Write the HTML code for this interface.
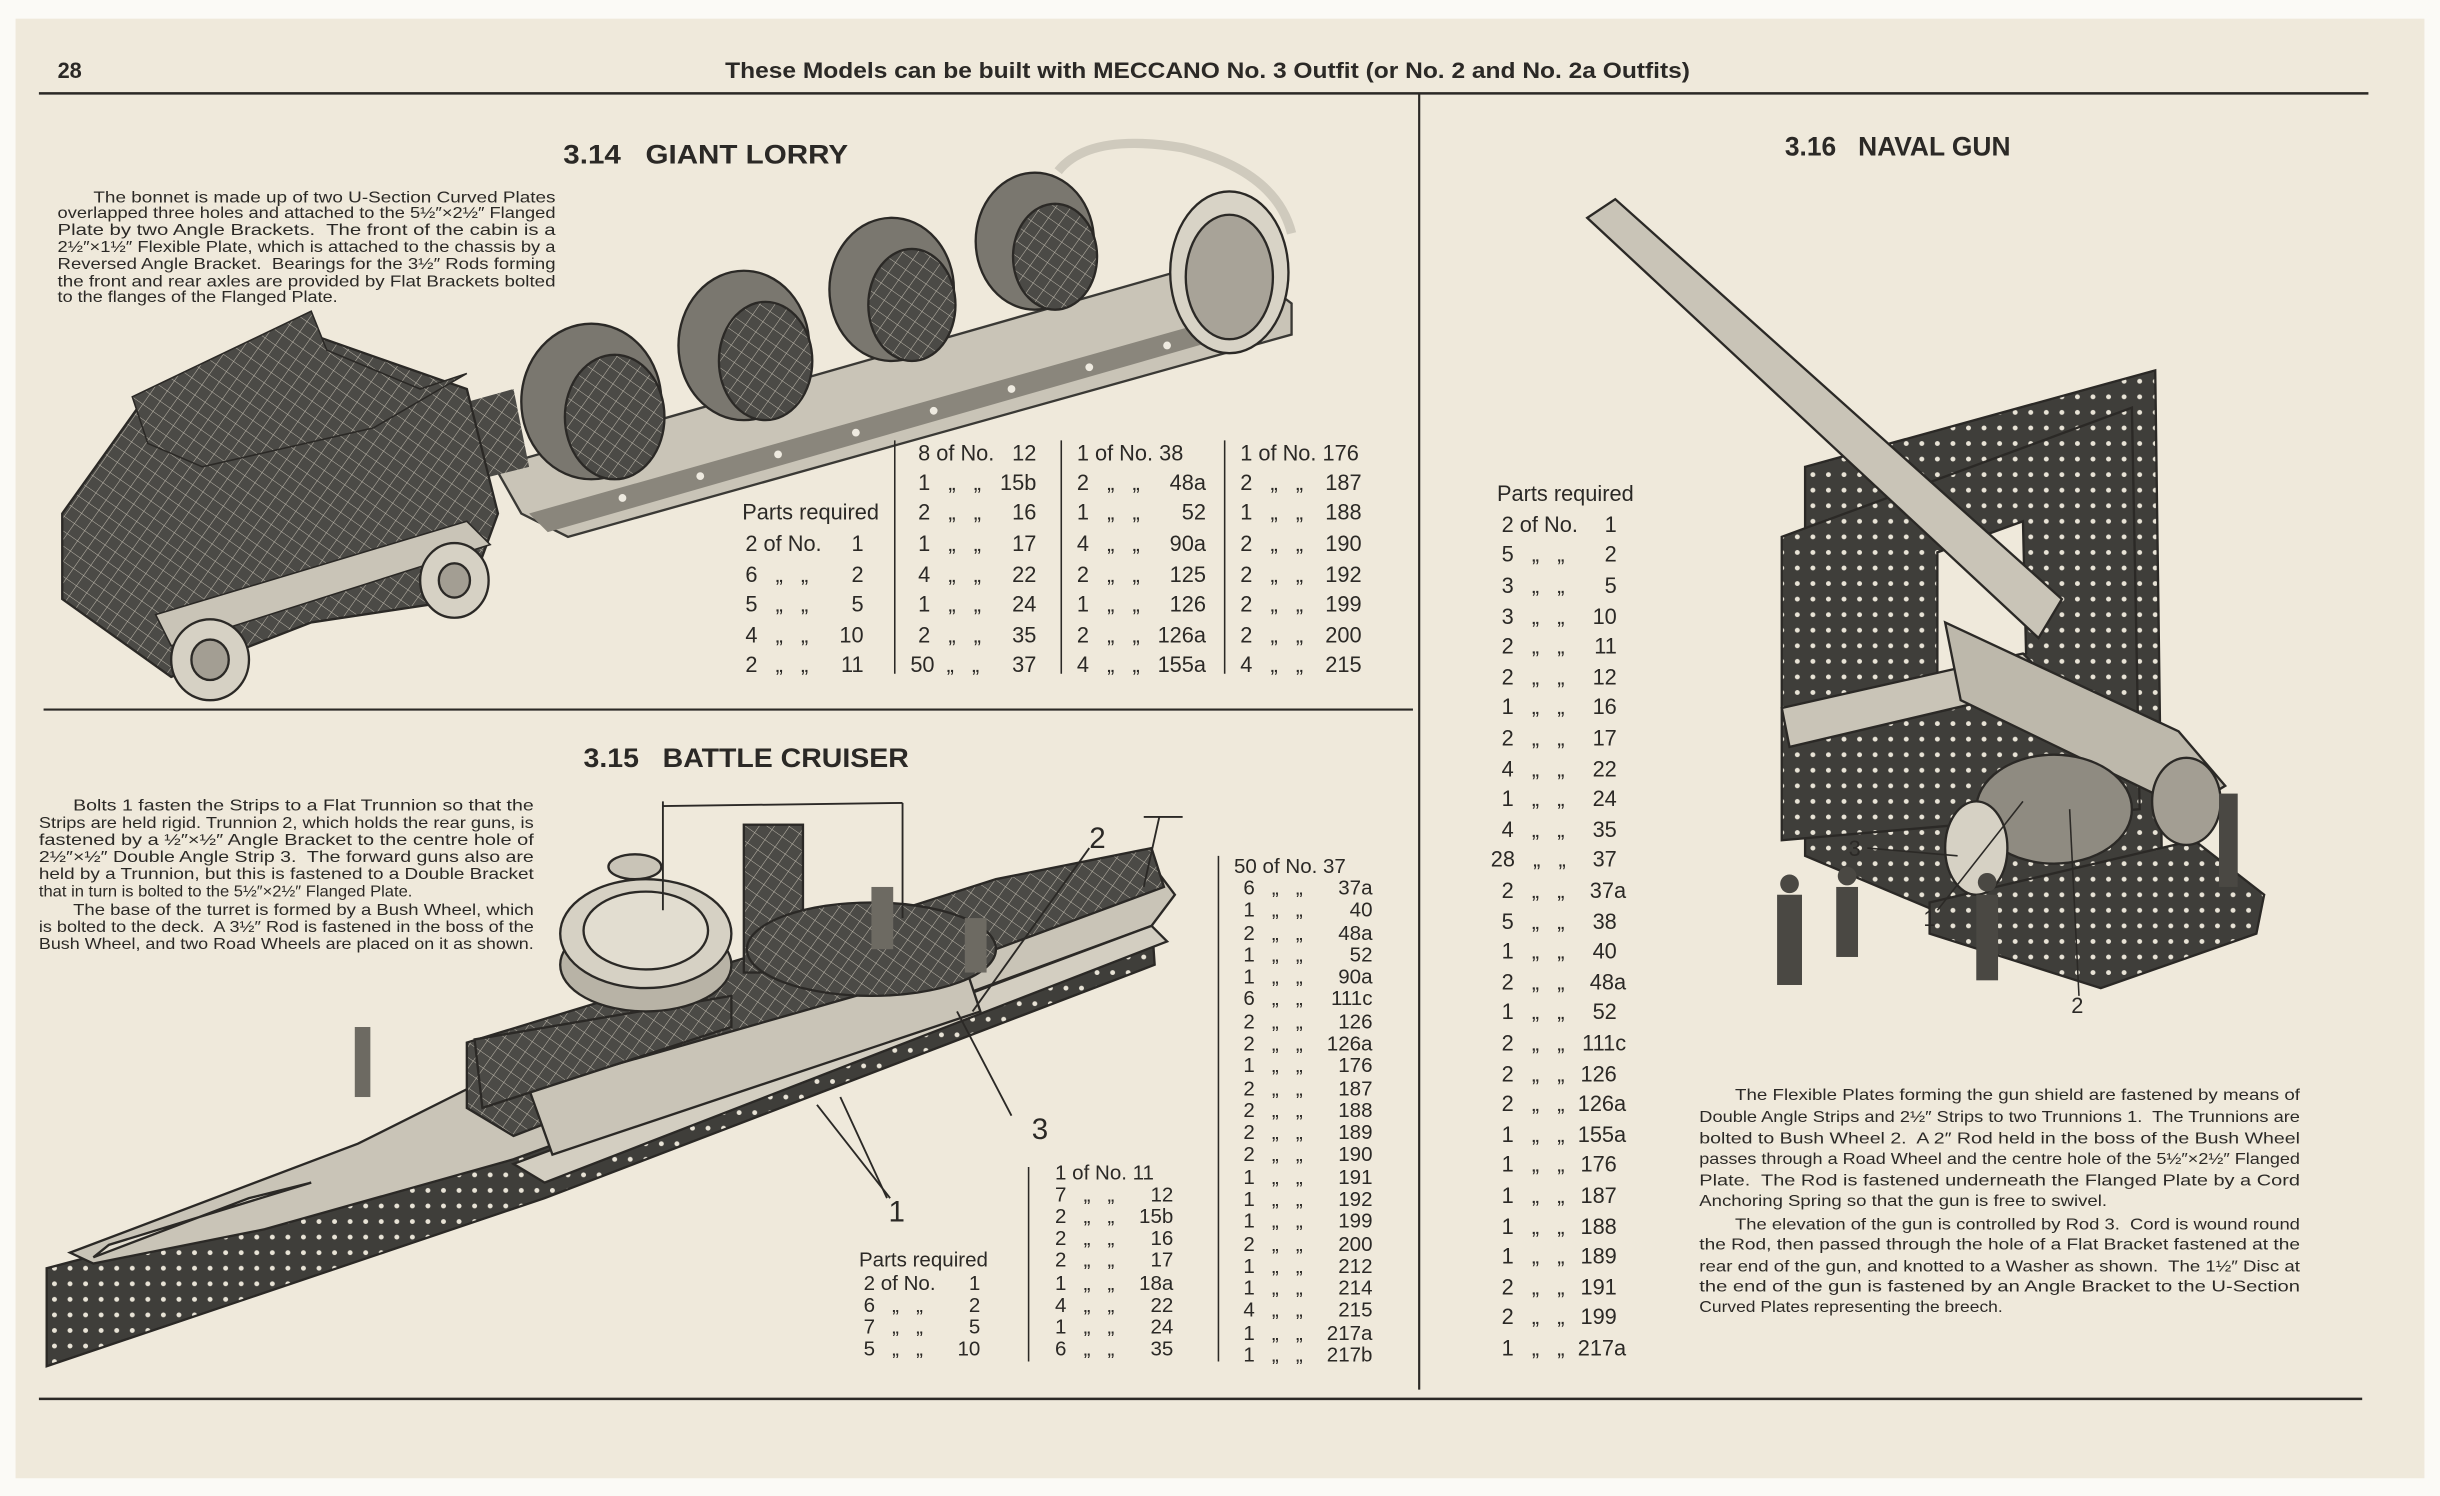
<!DOCTYPE html>
<html><head><meta charset="utf-8"><style>
html,body{margin:0;padding:0;background:#fff;}
svg{display:block}
text{font-family:"Liberation Sans",sans-serif;fill:#2b2926;white-space:pre}
.t{font-size:14px}
.p{font-size:10.3px}
.q{font-size:13.2px}
.h{font-size:17px;font-weight:bold}
</style></head><body>
<svg width="2440" height="1496" viewBox="0 0 1568 961.4" preserveAspectRatio="none" xmlns="http://www.w3.org/2000/svg" xml:space="preserve">
<defs>
<pattern id="hx" width="8" height="8" patternUnits="userSpaceOnUse" patternTransform="rotate(35)">
<rect width="8" height="8" fill="#4b4a46"/>
<path d="M0 0H8M0 0V8" stroke="#b9b4a8" stroke-width="0.7"/>
</pattern>
<pattern id="hd" width="10" height="10" patternUnits="userSpaceOnUse">
<rect width="10" height="10" fill="#3f3e3a"/>
<circle cx="5" cy="5" r="1.6" fill="#e8e3d6"/>
</pattern>
</defs>
<rect x="0" y="0" width="1568" height="961.4" fill="#fbfaf6"/>
<rect x="10" y="12" width="1548" height="938" fill="#efe9db"/>
<text x="37" y="50" class="t" font-weight="bold">28</text>
<text x="776" y="50" class="t" font-weight="bold" text-anchor="middle" textLength="620" lengthAdjust="spacingAndGlyphs">These Models can be built with MECCANO No. 3 Outfit (or No. 2 and No. 2a Outfits)</text>
<line x1="25" y1="60" x2="1522" y2="60" stroke="#2b2926" stroke-width="1.6"/>
<line x1="912" y1="60" x2="912" y2="893" stroke="#2b2926" stroke-width="1.4"/>
<line x1="28" y1="456" x2="908" y2="456" stroke="#2b2926" stroke-width="1.4"/>
<line x1="25" y1="899" x2="1518" y2="899" stroke="#2b2926" stroke-width="1.6"/>

<text x="362" y="105" class="h" textLength="183" lengthAdjust="spacingAndGlyphs">3.14   GIANT LORRY</text>
<text x="375" y="493" class="h" textLength="209" lengthAdjust="spacingAndGlyphs">3.15   BATTLE CRUISER</text>
<text x="1147" y="100" class="h" textLength="145" lengthAdjust="spacingAndGlyphs">3.16   NAVAL GUN</text>

<g class="p">
<text x="60" y="130" textLength="297" lengthAdjust="spacingAndGlyphs">The bonnet is made up of two U-Section Curved Plates</text>
<text x="37" y="140" textLength="320" lengthAdjust="spacingAndGlyphs">overlapped three holes and attached to the 5½″×2½″ Flanged</text>
<text x="37" y="151" textLength="320" lengthAdjust="spacingAndGlyphs">Plate by two Angle Brackets.  The front of the cabin is a</text>
<text x="37" y="162" textLength="320" lengthAdjust="spacingAndGlyphs">2½″×1½″ Flexible Plate, which is attached to the chassis by a</text>
<text x="37" y="173" textLength="320" lengthAdjust="spacingAndGlyphs">Reversed Angle Bracket.  Bearings for the 3½″ Rods forming</text>
<text x="37" y="184" textLength="320" lengthAdjust="spacingAndGlyphs">the front and rear axles are provided by Flat Brackets bolted</text>
<text x="37" y="194" textLength="180" lengthAdjust="spacingAndGlyphs">to the flanges of the Flanged Plate.</text>
</g>

<g>
<polygon points="318,300 790,165 830,195 830,215 365,345 335,330" fill="#c9c4b7" stroke="#3a3935" stroke-width="1.5"/>
<polygon points="340,330 800,200 805,212 352,342" fill="#8a867c"/>
<g fill="#eeeae0">
<circle cx="400" cy="320" r="2.5"/><circle cx="450" cy="306" r="2.5"/><circle cx="500" cy="292" r="2.5"/><circle cx="550" cy="278" r="2.5"/><circle cx="600" cy="264" r="2.5"/><circle cx="650" cy="250" r="2.5"/><circle cx="700" cy="236" r="2.5"/><circle cx="750" cy="222" r="2.5"/>
</g>
<polygon points="240,275 330,250 340,300 260,320" fill="url(#hx)"/>
<g stroke="#2b2926" stroke-width="1.5">
<ellipse cx="380" cy="258" rx="45" ry="50" fill="#7a776f"/><ellipse cx="395" cy="268" rx="32" ry="40" fill="url(#hx)"/>
<ellipse cx="478" cy="222" rx="42" ry="48" fill="#7a776f"/><ellipse cx="492" cy="232" rx="30" ry="38" fill="url(#hx)"/>
<ellipse cx="573" cy="186" rx="40" ry="46" fill="#7a776f"/><ellipse cx="586" cy="196" rx="28" ry="36" fill="url(#hx)"/>
<ellipse cx="665" cy="155" rx="38" ry="44" fill="#7a776f"/><ellipse cx="678" cy="165" rx="27" ry="34" fill="url(#hx)"/>
<path d="M680,110 Q700,85 760,95 Q820,110 830,150" fill="none" stroke-width="6" stroke="#cfcabd"/>
<ellipse cx="790" cy="175" rx="38" ry="52" fill="#d8d3c6"/>
<ellipse cx="790" cy="178" rx="28" ry="40" fill="#a8a398"/>
</g>
<polygon points="40,330 90,260 200,215 300,250 320,330 300,385 200,400 110,435 40,385" fill="url(#hx)" stroke="#2b2926" stroke-width="1.5"/>
<polygon points="85,255 200,200 210,225 270,250 300,240 240,275 130,300 95,285" fill="url(#hx)" stroke="#2b2926"/>
<polygon points="100,395 300,335 315,350 110,415" fill="#c9c4b7" stroke="#2b2926"/>
<g stroke="#2b2926" stroke-width="1.5">
<ellipse cx="135" cy="424" rx="25" ry="26" fill="#d6d1c4"/><ellipse cx="135" cy="424" rx="12" ry="13" fill="#a39e93"/>
<ellipse cx="292" cy="373" rx="22" ry="24" fill="#d6d1c4"/><ellipse cx="292" cy="373" rx="10" ry="11" fill="#a39e93"/>
</g>
</g>

<g stroke="#2b2926" stroke-width="1"><line x1="575" y1="283" x2="575" y2="433"/><line x1="682" y1="283" x2="682" y2="433"/><line x1="787" y1="283" x2="787" y2="433"/></g>
<g class="t">
<text x="477" y="334">Parts required</text>
<text x="479" y="354">2 of No.</text><text x="555" y="354" text-anchor="end">1</text>
<text x="479" y="374">6   „   „</text><text x="555" y="374" text-anchor="end">2</text>
<text x="479" y="393">5   „   „</text><text x="555" y="393" text-anchor="end">5</text>
<text x="479" y="413">4   „   „</text><text x="555" y="413" text-anchor="end">10</text>
<text x="479" y="432">2   „   „</text><text x="555" y="432" text-anchor="end">11</text>

<text x="590" y="296">8 of No.</text><text x="666" y="296" text-anchor="end">12</text>
<text x="590" y="315">1   „   „</text><text x="666" y="315" text-anchor="end">15b</text>
<text x="590" y="334">2   „   „</text><text x="666" y="334" text-anchor="end">16</text>
<text x="590" y="354">1   „   „</text><text x="666" y="354" text-anchor="end">17</text>
<text x="590" y="374">4   „   „</text><text x="666" y="374" text-anchor="end">22</text>
<text x="590" y="393">1   „   „</text><text x="666" y="393" text-anchor="end">24</text>
<text x="590" y="413">2   „   „</text><text x="666" y="413" text-anchor="end">35</text>
<text x="585" y="432">50  „   „</text><text x="666" y="432" text-anchor="end">37</text>

<text x="692" y="296">1 of No. 38</text>
<text x="692" y="315">2   „   „</text><text x="775" y="315" text-anchor="end">48a</text>
<text x="692" y="334">1   „   „</text><text x="775" y="334" text-anchor="end">52</text>
<text x="692" y="354">4   „   „</text><text x="775" y="354" text-anchor="end">90a</text>
<text x="692" y="374">2   „   „</text><text x="775" y="374" text-anchor="end">125</text>
<text x="692" y="393">1   „   „</text><text x="775" y="393" text-anchor="end">126</text>
<text x="692" y="413">2   „   „</text><text x="775" y="413" text-anchor="end">126a</text>
<text x="692" y="432">4   „   „</text><text x="775" y="432" text-anchor="end">155a</text>

<text x="797" y="296">1 of No. 176</text>
<text x="797" y="315">2   „   „</text><text x="875" y="315" text-anchor="end">187</text>
<text x="797" y="334">1   „   „</text><text x="875" y="334" text-anchor="end">188</text>
<text x="797" y="354">2   „   „</text><text x="875" y="354" text-anchor="end">190</text>
<text x="797" y="374">2   „   „</text><text x="875" y="374" text-anchor="end">192</text>
<text x="797" y="393">2   „   „</text><text x="875" y="393" text-anchor="end">199</text>
<text x="797" y="413">2   „   „</text><text x="875" y="413" text-anchor="end">200</text>
<text x="797" y="432">4   „   „</text><text x="875" y="432" text-anchor="end">215</text>
</g>

<g class="p">
<text x="47" y="521" textLength="296" lengthAdjust="spacingAndGlyphs">Bolts 1 fasten the Strips to a Flat Trunnion so that the</text>
<text x="25" y="532" textLength="318" lengthAdjust="spacingAndGlyphs">Strips are held rigid. Trunnion 2, which holds the rear guns, is</text>
<text x="25" y="543" textLength="318" lengthAdjust="spacingAndGlyphs">fastened by a ½″×½″ Angle Bracket to the centre hole of</text>
<text x="25" y="554" textLength="318" lengthAdjust="spacingAndGlyphs">2½″×½″ Double Angle Strip 3.  The forward guns also are</text>
<text x="25" y="565" textLength="318" lengthAdjust="spacingAndGlyphs">held by a Trunnion, but this is fastened to a Double Bracket</text>
<text x="25" y="576" textLength="240" lengthAdjust="spacingAndGlyphs">that in turn is bolted to the 5½″×2½″ Flanged Plate.</text>
<text x="47" y="588" textLength="296" lengthAdjust="spacingAndGlyphs">The base of the turret is formed by a Bush Wheel, which</text>
<text x="25" y="599" textLength="318" lengthAdjust="spacingAndGlyphs">is bolted to the deck.  A 3½″ Rod is fastened in the boss of the</text>
<text x="25" y="610" textLength="318" lengthAdjust="spacingAndGlyphs">Bush Wheel, and two Road Wheels are placed on it as shown.</text>
</g>

<g stroke="#2b2926" stroke-width="1.5">
<polygon points="30,815 200,770 330,740 740,590 742,620 350,770 30,878" fill="url(#hd)"/>
<polygon points="45,805 230,735 300,700 370,690 740,555 755,575 740,595 330,745 170,790 60,812" fill="#c9c4b7"/>
<polygon points="300,670 530,600 640,565 740,545 748,570 640,610 330,730 300,712" fill="url(#hx)"/>
<polygon points="330,748 740,595 750,605 350,760" fill="#d3cec1"/>
<polygon points="340,700 620,620 630,650 355,742" fill="#c9c4b7"/>
<polygon points="305,668 470,640 470,660 310,712" fill="url(#hx)"/>
<rect x="478" y="530" width="38" height="95" fill="url(#hx)"/>
<ellipse cx="415" cy="620" rx="55" ry="30" fill="#b8b3a6"/>
<ellipse cx="415" cy="600" rx="55" ry="35" fill="#d6d1c4"/>
<ellipse cx="415" cy="598" rx="40" ry="25" fill="#e2ddd0"/>
<ellipse cx="408" cy="557" rx="17" ry="8" fill="#c9c4b7"/>
<ellipse cx="560" cy="610" rx="80" ry="30" fill="url(#hx)"/>
<polygon points="60,808 160,770 200,760 70,800" fill="#e2ddd0"/>
</g>
<g stroke="#2b2926" stroke-width="1.2" fill="none">
<line x1="426" y1="515" x2="426" y2="585"/><line x1="426" y1="518" x2="580" y2="516"/><line x1="580" y1="516" x2="580" y2="590"/>
<line x1="735" y1="525" x2="760" y2="525"/><line x1="745" y1="525" x2="735" y2="570"/>
<line x1="700" y1="545" x2="625" y2="650"/>
<line x1="650" y1="717" x2="615" y2="650"/>
<line x1="570" y1="770" x2="540" y2="705"/>
<line x1="572" y1="770" x2="525" y2="710"/>
</g>
<rect x="560" y="570" width="14" height="40" fill="#6d6a62"/>
<rect x="620" y="590" width="14" height="35" fill="#6d6a62"/>
<rect x="228" y="660" width="10" height="45" fill="#6d6a62"/>
<g style="font-size:19px">
<text x="700" y="545">2</text><text x="663" y="732">3</text><text x="571" y="785">1</text>
</g>

<g stroke="#2b2926" stroke-width="1"><line x1="661" y1="750" x2="661" y2="875"/><line x1="783" y1="550" x2="783" y2="875"/></g>
<g class="q">
<text x="552" y="814">Parts required</text>
<text x="555" y="829">2 of No.</text><text x="630" y="829" text-anchor="end">1</text>
<text x="555" y="843">6   „   „</text><text x="630" y="843" text-anchor="end">2</text>
<text x="555" y="857">7   „   „</text><text x="630" y="857" text-anchor="end">5</text>
<text x="555" y="871">5   „   „</text><text x="630" y="871" text-anchor="end">10</text>

<text x="678" y="758">1 of No. 11</text>
<text x="678" y="772">7   „   „</text><text x="754" y="772" text-anchor="end">12</text>
<text x="678" y="786">2   „   „</text><text x="754" y="786" text-anchor="end">15b</text>
<text x="678" y="800">2   „   „</text><text x="754" y="800" text-anchor="end">16</text>
<text x="678" y="814">2   „   „</text><text x="754" y="814" text-anchor="end">17</text>
<text x="678" y="829">1   „   „</text><text x="754" y="829" text-anchor="end">18a</text>
<text x="678" y="843">4   „   „</text><text x="754" y="843" text-anchor="end">22</text>
<text x="678" y="857">1   „   „</text><text x="754" y="857" text-anchor="end">24</text>
<text x="678" y="871">6   „   „</text><text x="754" y="871" text-anchor="end">35</text>

<text x="793" y="561">50 of No. 37</text>
<text x="799" y="575">6   „   „</text><text x="882" y="575" text-anchor="end">37a</text>
<text x="799" y="589">1   „   „</text><text x="882" y="589" text-anchor="end">40</text>
<text x="799" y="604">2   „   „</text><text x="882" y="604" text-anchor="end">48a</text>
<text x="799" y="618">1   „   „</text><text x="882" y="618" text-anchor="end">52</text>
<text x="799" y="632">1   „   „</text><text x="882" y="632" text-anchor="end">90a</text>
<text x="799" y="646">6   „   „</text><text x="882" y="646" text-anchor="end">111c</text>
<text x="799" y="661">2   „   „</text><text x="882" y="661" text-anchor="end">126</text>
<text x="799" y="675">2   „   „</text><text x="882" y="675" text-anchor="end">126a</text>
<text x="799" y="689">1   „   „</text><text x="882" y="689" text-anchor="end">176</text>
<text x="799" y="704">2   „   „</text><text x="882" y="704" text-anchor="end">187</text>
<text x="799" y="718">2   „   „</text><text x="882" y="718" text-anchor="end">188</text>
<text x="799" y="732">2   „   „</text><text x="882" y="732" text-anchor="end">189</text>
<text x="799" y="746">2   „   „</text><text x="882" y="746" text-anchor="end">190</text>
<text x="799" y="761">1   „   „</text><text x="882" y="761" text-anchor="end">191</text>
<text x="799" y="775">1   „   „</text><text x="882" y="775" text-anchor="end">192</text>
<text x="799" y="789">1   „   „</text><text x="882" y="789" text-anchor="end">199</text>
<text x="799" y="804">2   „   „</text><text x="882" y="804" text-anchor="end">200</text>
<text x="799" y="818">1   „   „</text><text x="882" y="818" text-anchor="end">212</text>
<text x="799" y="832">1   „   „</text><text x="882" y="832" text-anchor="end">214</text>
<text x="799" y="846">4   „   „</text><text x="882" y="846" text-anchor="end">215</text>
<text x="799" y="861">1   „   „</text><text x="882" y="861" text-anchor="end">217a</text>
<text x="799" y="875">1   „   „</text><text x="882" y="875" text-anchor="end">217b</text>
</g>

<g stroke="#2b2926" stroke-width="1.5">
<polygon points="1160,300 1385,238 1390,610 1350,630 1160,550" fill="url(#hd)"/>
<polygon points="1145,345 1370,262 1375,520 1145,540" fill="url(#hd)"/>
<polygon points="1245,355 1300,335 1302,420 1245,440" fill="#efe9db"/>
<polygon points="1020,140 1038,128 1325,385 1310,410" fill="#c9c4b7"/>
<polygon points="1145,455 1300,420 1320,440 1150,480" fill="#c9c4b7"/>
<polygon points="1250,400 1400,470 1430,505 1405,520 1260,450" fill="#bdb8ab"/>
<polygon points="1240,580 1410,540 1455,575 1450,600 1350,635 1240,600" fill="url(#hd)"/>
<ellipse cx="1320" cy="520" rx="50" ry="35" fill="#8f8b81"/>
<ellipse cx="1270" cy="545" rx="20" ry="30" fill="#d6d1c4"/>
<ellipse cx="1405" cy="515" rx="22" ry="28" fill="#a39e93"/>
</g>
<g fill="#4a4843">
<rect x="1142" y="575" width="16" height="58"/><circle cx="1150" cy="568" r="6"/>
<rect x="1180" y="570" width="14" height="45"/><circle cx="1187" cy="563" r="6"/>
<rect x="1270" y="575" width="14" height="55"/><circle cx="1277" cy="567" r="6"/>
<rect x="1426" y="510" width="12" height="60"/>
</g>
<g stroke="#2b2926" stroke-width="1" fill="none">
<line x1="1200" y1="545" x2="1258" y2="550"/><line x1="1245" y1="585" x2="1300" y2="515"/><line x1="1336" y1="640" x2="1330" y2="520"/>
</g>
<g style="font-size:14px">
<text x="1188" y="550">3</text><text x="1236" y="595">1</text><text x="1331" y="651">2</text>
</g>

<g class="t">
<text x="962" y="322">Parts required</text>
<text x="965" y="342">2 of No.</text><text x="1039" y="342" text-anchor="end">1</text>
<text x="965" y="361">5   „   „</text><text x="1039" y="361" text-anchor="end">2</text>
<text x="965" y="381">3   „   „</text><text x="1039" y="381" text-anchor="end">5</text>
<text x="965" y="401">3   „   „</text><text x="1039" y="401" text-anchor="end">10</text>
<text x="965" y="420">2   „   „</text><text x="1039" y="420" text-anchor="end">11</text>
<text x="965" y="440">2   „   „</text><text x="1039" y="440" text-anchor="end">12</text>
<text x="965" y="459">1   „   „</text><text x="1039" y="459" text-anchor="end">16</text>
<text x="965" y="479">2   „   „</text><text x="1039" y="479" text-anchor="end">17</text>
<text x="965" y="499">4   „   „</text><text x="1039" y="499" text-anchor="end">22</text>
<text x="965" y="518">1   „   „</text><text x="1039" y="518" text-anchor="end">24</text>
<text x="965" y="538">4   „   „</text><text x="1039" y="538" text-anchor="end">35</text>
<text x="958" y="557">28   „   „</text><text x="1039" y="557" text-anchor="end">37</text>
<text x="965" y="577">2   „   „</text><text x="1045" y="577" text-anchor="end">37a</text>
<text x="965" y="597">5   „   „</text><text x="1039" y="597" text-anchor="end">38</text>
<text x="965" y="616">1   „   „</text><text x="1039" y="616" text-anchor="end">40</text>
<text x="965" y="636">2   „   „</text><text x="1045" y="636" text-anchor="end">48a</text>
<text x="965" y="655">1   „   „</text><text x="1039" y="655" text-anchor="end">52</text>
<text x="965" y="675">2   „   „</text><text x="1045" y="675" text-anchor="end">111c</text>
<text x="965" y="695">2   „   „</text><text x="1039" y="695" text-anchor="end">126</text>
<text x="965" y="714">2   „   „</text><text x="1045" y="714" text-anchor="end">126a</text>
<text x="965" y="734">1   „   „</text><text x="1045" y="734" text-anchor="end">155a</text>
<text x="965" y="753">1   „   „</text><text x="1039" y="753" text-anchor="end">176</text>
<text x="965" y="773">1   „   „</text><text x="1039" y="773" text-anchor="end">187</text>
<text x="965" y="793">1   „   „</text><text x="1039" y="793" text-anchor="end">188</text>
<text x="965" y="812">1   „   „</text><text x="1039" y="812" text-anchor="end">189</text>
<text x="965" y="832">2   „   „</text><text x="1039" y="832" text-anchor="end">191</text>
<text x="965" y="851">2   „   „</text><text x="1039" y="851" text-anchor="end">199</text>
<text x="965" y="871">1   „   „</text><text x="1045" y="871" text-anchor="end">217a</text>
</g>

<g class="p">
<text x="1115" y="707" textLength="363" lengthAdjust="spacingAndGlyphs">The Flexible Plates forming the gun shield are fastened by means of</text>
<text x="1092" y="721" textLength="386" lengthAdjust="spacingAndGlyphs">Double Angle Strips and 2½″ Strips to two Trunnions 1.  The Trunnions are</text>
<text x="1092" y="735" textLength="386" lengthAdjust="spacingAndGlyphs">bolted to Bush Wheel 2.  A 2″ Rod held in the boss of the Bush Wheel</text>
<text x="1092" y="748" textLength="386" lengthAdjust="spacingAndGlyphs">passes through a Road Wheel and the centre hole of the 5½″×2½″ Flanged</text>
<text x="1092" y="762" textLength="386" lengthAdjust="spacingAndGlyphs">Plate.  The Rod is fastened underneath the Flanged Plate by a Cord</text>
<text x="1092" y="775" textLength="262" lengthAdjust="spacingAndGlyphs">Anchoring Spring so that the gun is free to swivel.</text>
<text x="1115" y="790" textLength="363" lengthAdjust="spacingAndGlyphs">The elevation of the gun is controlled by Rod 3.  Cord is wound round</text>
<text x="1092" y="803" textLength="386" lengthAdjust="spacingAndGlyphs">the Rod, then passed through the hole of a Flat Bracket fastened at the</text>
<text x="1092" y="817" textLength="386" lengthAdjust="spacingAndGlyphs">rear end of the gun, and knotted to a Washer as shown.  The 1½″ Disc at</text>
<text x="1092" y="830" textLength="386" lengthAdjust="spacingAndGlyphs">the end of the gun is fastened by an Angle Bracket to the U-Section</text>
<text x="1092" y="843" textLength="195" lengthAdjust="spacingAndGlyphs">Curved Plates representing the breech.</text>
</g>
</svg>
</body></html>
